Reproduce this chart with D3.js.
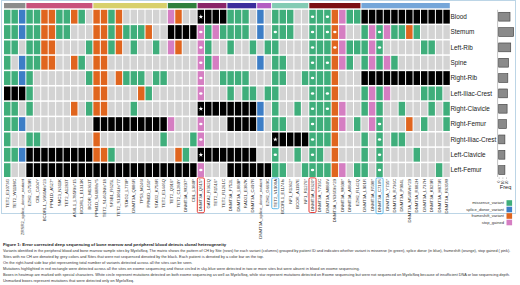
<!DOCTYPE html>
<html>
<head>
<meta charset="utf-8">
<script src="https://cdn.jsdelivr.net/npm/d3@7"></script>
<style>
  body { margin: 0; background: #fff; }
  svg text { font-family: "Liberation Sans", Arial, sans-serif; }
</style>
</head>
<body>
<div id="chart"></div>
<script>
// sites (rows) and variants (columns)
var sites = ["Blood", "Stemum", "Left-Rib", "Spine", "Right-Rib", "Left-Iliac-Crest",
    "Right-Clavicle", "Right-Femur", "Right-Iliac-Crest", "Left-Clavicle", "Left-Femur"];

var variants = ["TET2_E1073G", "TET2_W1198C", "ZRSR2_splice_donor_variant", "EZH2_G759R", "CBL_C404Y",
    "BCORL1_V960Afs*23", "PPM1D_A527*", "SMC3_N311K", "TET2_A1283T", "ASXL1_L785Rfs*15",
    "BCORL1_E1313K", "BCOR_M1361T", "PPM1D_S468Rfs*5", "TET2_S1462Nfs*18", "SF3B1_R625L",
    "TET2_S1306Lfs*77", "STAG2_L770P", "DNMT3A_Q886R", "TP53_M246I", "PPM1D_L450*",
    "STAG2_K758R", "TET2_E1446Q", "TET2_Q916*", "TET2_C1289Y", "DNMT3A_W297*",
    "CBL_L380P", "DNMT3A_Q615*", "GATA2_R362Q", "TET2_R1516*", "TET2_R1261C",
    "DNMT3A_F752L", "DNMT3A_L889P", "RAD21_E387K", "DNMT3A_C497R", "DNMT3A_splice_donor_variant",
    "EZH2_G669C", "TET2_V1900A", "BCORL1_E1174fs", "NF1_R1362*", "BCOR_A1197E",
    "NF1_R1276*", "DNMT3A_R320*", "DNMT3A_Y735C", "DNMT3A_M880V", "DNMT3A_V636Gfs*29",
    "DNMT3A_W698*", "DNMT3A_A884P", "EZH2_R142Q", "DNMT3A_L901R", "DNMT3A_R598*",
    "DNMT3A_C710S", "DNMT3A_Y735*", "DNMT3A_R736C", "DNMT3A_P904L", "DNMT3A_M548Vfs*29",
    "DNMT3A_R882H", "DNMT3A_L737H", "DNMT3A_K829R", "DNMT3A_H873R", "DNMT3A_R635W"];

// patient groups (top colour bar): number of variants per patient, in column order
var patientIds = ["P01", "P02", "P03", "P04", "P05", "P06", "P07", "P08", "P09", "P10"];
var patientVariantCounts = [3, 9, 10, 4, 4, 4, 2, 5, 7, 12];

// one string per site, one char per variant
// G missense, B splice donor, O frameshift, P stop gained, _ no CH, K not sequenced
var cellRows = [
    "GGBGGOOGGOG_OOGO______PO__" + "KKKK" + "GGG_B_GGG__GGGO" + "PGGKKKKKKKKKKKK",
    "GGBGGOOGG___OOGOGGGO__KKKK" + "PGPG" + "GGG_B_GGG__GGGO" + "P__GPGPGGOG____",
    "GG_GGOO____GOOGO_G__G_PO__" + "PG__" + "G__G_GG____GGGO" + "PGGGPG_____GG__",
    "G_BGGOO__OG_OO____________" + "PGP_" + "____B_GG___GGGO" + "PG_GPGPG_______",
    "GGBG_______GOO_OGGG_GG____" + "P__G" + "GGG___GG__GGGGO" + "___KKKKKKKKKKKK",
    "KKKG________OO____OG______" + "P___" + "G_GG_GG____GGGO" + "___GPGP____GGG_",
    "GG_G_____O_GOO___G________" + "KKKK" + "KKKKB_G__G_GGGO" + "P__GPG__G___G_G",
    "GGB_________KKKKKKKKKKP___" + "P___" + "KKKKB_GG___GGGO" + "P_G_PG___O_G__G",
    "G__GG_______O________G___G" + "P___" + "______KKKKKGGGO" + "___G_G_GG______",
    "GGBKKKKKKKKKOOG________OG_" + "KKKK" + "KKKK__G__G_GG_O" + "___G_G____G____",
    "G__KKKKKKKKKKKKKKKKKKKKKKK" + "P___" + "KKKKKKGG__GGGGO" + "P_GG_G_______G_"
];

// [site index, variant index]
var circleMarks = [[0,41],[0,43],[1,26],[1,36],[1,41],[1,43],[1,44],[1,50],[2,26],[2,41],[2,44],[2,50],
    [3,26],[3,41],[3,43],[4,26],[4,41],[5,26],[5,41],[5,43],[6,41],[6,43],[7,26],[7,41],[7,50],
    [8,26],[8,41],[8,50],[9,36],[9,41],[9,50],[10,26],[10,41],[10,50]];
var starMarks = [[0,26],[6,26],[8,36],[9,26]];

var redBoxed = ["DNMT3A_Q615*", "DNMT3A_R320*"];
var blueBoxed = ["TET2_V1900A", "DNMT3A_C710S"];

// right-hand bar plot
var siteFreq = [31, 41, 33, 27, 25, 24, 23, 21, 17, 17, 17];
var freqTicks = [0, 10, 20];

var variantTypes = ["missense_variant", "splice_donor_variant", "frameshift_variant", "stop_gained"];
var variantCodes = ["G", "B", "O", "P"];

var captionTitle = "Figure 1: Error corrected deep sequencing of bone marrow and peripheral blood detects clonal heterogeneity";
var captionLines = [
    "Variants identified in the peripheral blood and bone marrow sample sites by MyeloSeq. The matrix shows the pattern of CH by Site (rows) for each variant (columns) grouped by patient ID and indicates whether variant is missense (in green), splice donor (in blue), frameshift (orange), stop gained ( pink).",
    "Sites with no CH are denoted by grey colors and Sites that were not sequenced denoted by the black. Each patient is denoted by a color bar on the top.",
    "On the right-hand side bar plot representing total number of variants detected across all the sites can be seen.",
    "Mutations highlighted in red rectangle were detected across all the sites on exome sequencing and those circled in sky-blue were detected in two or more sites but were absent in blood on exome sequencing.",
    "Boxes in heatmap are marked with special characters. White circle represent mutations detected on both exome sequencing as well as MyeloSeq, while star represent mutations detected on Exome sequencing but were not sequenced on MyeloSeq because of insufficient DNA or low sequencing depth.",
    "Unmarked boxes represent mutations that were detected only on MyeloSeq."
];

function init() {
    var w = 520;
    var h = 285;

    var cellColor = { G: "#3fae7b", B: "#3d7ec6", O: "#e0651e", P: "#d57ec2", _: "#d3d3d3", K: "#000000" };
    var patientColors = ["#8c8c8c", "#c9527c", "#d8d06c", "#2f7f3c", "#8a2468",
        "#3b2d9c", "#b35cc2", "#83cbb4", "#7b1014", "#75a6d9"];

    var svg = d3.select("#chart")
        .append("svg")
        .attr("width", w)
        .attr("height", h);

    // panel border
    svg.append("rect")
        .attr("x", 1.5).attr("y", 0.5)
        .attr("width", 514).attr("height", 213)
        .attr("fill", "none")
        .attr("stroke", "#bcd5e6")
        .attr("stroke-width", 1);

    var xScale = d3.scaleBand()
        .domain(variants)
        .range([4, 449.8])
        .paddingInner(0.13);

    var yScale = d3.scaleBand()
        .domain(sites)
        .range([9.8, 177])
        .paddingInner(0.1);

    // patient colour bar
    var groups = [];
    var start = 0;
    patientIds.forEach(function(id, i) {
        groups.push({ id: id, first: variants[start], last: variants[start + patientVariantCounts[i] - 1], color: patientColors[i] });
        start += patientVariantCounts[i];
    });

    svg.append("g")
        .selectAll("rect")
        .data(groups)
        .enter()
        .append("rect")
        .attr("x", function(d) { return xScale(d.first); })
        .attr("y", 3)
        .attr("width", function(d) { return xScale(d.last) + xScale.bandwidth() - xScale(d.first); })
        .attr("height", 5.3)
        .attr("fill", function(d) { return d.color; });

    // heatmap cells
    var cells = [];
    cellRows.forEach(function(row, r) {
        row.split("").forEach(function(code, c) {
            cells.push({ site: sites[r], variant: variants[c], code: code });
        });
    });

    svg.append("g")
        .selectAll("rect")
        .data(cells)
        .enter()
        .append("rect")
        .attr("x", function(d) { return xScale(d.variant); })
        .attr("y", function(d) { return yScale(d.site); })
        .attr("width", xScale.bandwidth())
        .attr("height", yScale.bandwidth())
        .attr("fill", function(d) { return cellColor[d.code]; });

    // marks: white circles and stars
    svg.append("g")
        .selectAll("ellipse")
        .data(circleMarks)
        .enter()
        .append("ellipse")
        .attr("cx", function(d) { return xScale(variants[d[1]]) + xScale.bandwidth() / 2; })
        .attr("cy", function(d) { return yScale(sites[d[0]]) + yScale.bandwidth() / 2; })
        .attr("rx", 1.7)
        .attr("ry", 1.25)
        .attr("fill", "#ffffff");

    svg.append("g")
        .selectAll("path")
        .data(starMarks)
        .enter()
        .append("path")
        .attr("d", d3.symbol().type(d3.symbolStar).size(7))
        .attr("transform", function(d) {
            return "translate(" + (xScale(variants[d[1]]) + xScale.bandwidth() / 2) + "," +
                (yScale(sites[d[0]]) + yScale.bandwidth() / 2) + ")";
        })
        .attr("fill", "#ffffff");

    // row labels
    svg.append("g")
        .selectAll("text")
        .data(sites)
        .enter()
        .append("text")
        .attr("x", 450.5)
        .attr("y", function(d) { return yScale(d) + yScale.bandwidth() / 2; })
        .attr("dy", "0.35em")
        .style("font-size", "6.4px")
        .attr("fill", "#222")
        .text(function(d) { return d; });

    // column labels, rotated
    var colLabels = svg.append("g")
        .selectAll("g")
        .data(variants)
        .enter()
        .append("g")
        .attr("transform", function(d) {
            return "translate(" + (xScale(d) + xScale.bandwidth() / 2) + ",179) rotate(-90)";
        });

    colLabels.append("text")
        .attr("text-anchor", "end")
        .attr("dy", "0.35em")
        .style("font-size", "4.3px")
        .attr("fill", "#333")
        .text(function(d) { return d; });

    colLabels.each(function(d) {
        var color = redBoxed.indexOf(d) >= 0 ? "#e3261f" : (blueBoxed.indexOf(d) >= 0 ? "#4fb3e8" : null);
        if (!color) return;
        var len = d3.select(this).select("text").node().getComputedTextLength();
        d3.select(this).append("rect")
            .attr("x", -len - 1.5)
            .attr("y", -xScale.bandwidth() / 2 - 0.3)
            .attr("width", len + 2.6)
            .attr("height", xScale.bandwidth() + 0.6)
            .attr("rx", 1.3)
            .attr("fill", "none")
            .attr("stroke", color)
            .attr("stroke-width", 0.9);
    });

    // bar plot of counts per site
    var xFreq = d3.scaleLinear()
        .domain([0, 40])
        .range([498.7, 513.3]);

    svg.append("line")
        .attr("x1", 497.6).attr("x2", 497.6)
        .attr("y1", 9.8).attr("y2", 177)
        .attr("stroke", "#9a9a9a")
        .attr("stroke-width", 0.6);

    svg.append("g")
        .selectAll("rect")
        .data(siteFreq)
        .enter()
        .append("rect")
        .attr("x", xFreq(0))
        .attr("y", function(d, i) { return yScale(sites[i]) + yScale.bandwidth() * 0.18; })
        .attr("width", function(d) { return xFreq(d) - xFreq(0); })
        .attr("height", yScale.bandwidth() * 0.64)
        .attr("fill", "#8a8a8a")
        .attr("stroke", "#3c3c3c")
        .attr("stroke-width", 0.6);

    var freqAxis = d3.axisBottom(xFreq).tickValues(freqTicks).tickSize(1.2).tickPadding(0.8);
    var fa = svg.append("g")
        .attr("class", "freq axis")
        .attr("transform", "translate(0,177.5)")
        .call(freqAxis);
    fa.select(".domain").remove();
    fa.selectAll("line").attr("stroke", "#555").attr("stroke-width", 0.4);
    fa.selectAll("text")
        .style("font-size", "3.4px")
        .attr("fill", "#444")
        .attr("text-anchor", "end")
        .attr("dy", "0.35em")
        .attr("transform", "translate(0,3) rotate(-90)")
        .attr("y", 0)
        .attr("x", 0);

    svg.append("text")
        .attr("x", 505.5)
        .attr("y", 188.5)
        .attr("text-anchor", "middle")
        .style("font-size", "5.6px")
        .attr("fill", "#222")
        .text("Freq");

    // legend
    var legend = svg.append("g")
        .selectAll("g")
        .data(variantTypes)
        .enter()
        .append("g")
        .attr("transform", function(d, i) { return "translate(0," + (203 + i * 6.5) + ")"; });

    legend.append("rect")
        .attr("x", 506.5)
        .attr("y", -2.8)
        .attr("width", 5.6)
        .attr("height", 5.6)
        .attr("fill", function(d, i) { return cellColor[variantCodes[i]]; });

    legend.append("text")
        .attr("x", 504)
        .attr("dy", "0.35em")
        .attr("text-anchor", "end")
        .style("font-size", "4.1px")
        .attr("fill", "#333")
        .text(function(d) { return d; });

    // caption
    svg.append("text")
        .attr("x", 3)
        .attr("y", 245.5)
        .style("font-size", "4.3px")
        .style("font-weight", "bold")
        .attr("fill", "#222")
        .text(captionTitle);

    svg.append("g")
        .selectAll("text")
        .data(captionLines)
        .enter()
        .append("text")
        .attr("x", 3)
        .attr("y", function(d, i) { return 251.7 + i * 6.15; })
        .style("font-size", "3.9px")
        .attr("fill", "#333")
        .text(function(d) { return d; })
        .each(function() {
            // shrink the long lines so they stay inside the page
            var len = this.getComputedTextLength();
            if (len > 508) d3.select(this).style("font-size", (3.9 * 508 / len).toFixed(2) + "px");
        });
}

window.onload = init;
</script>
</body>
</html>
